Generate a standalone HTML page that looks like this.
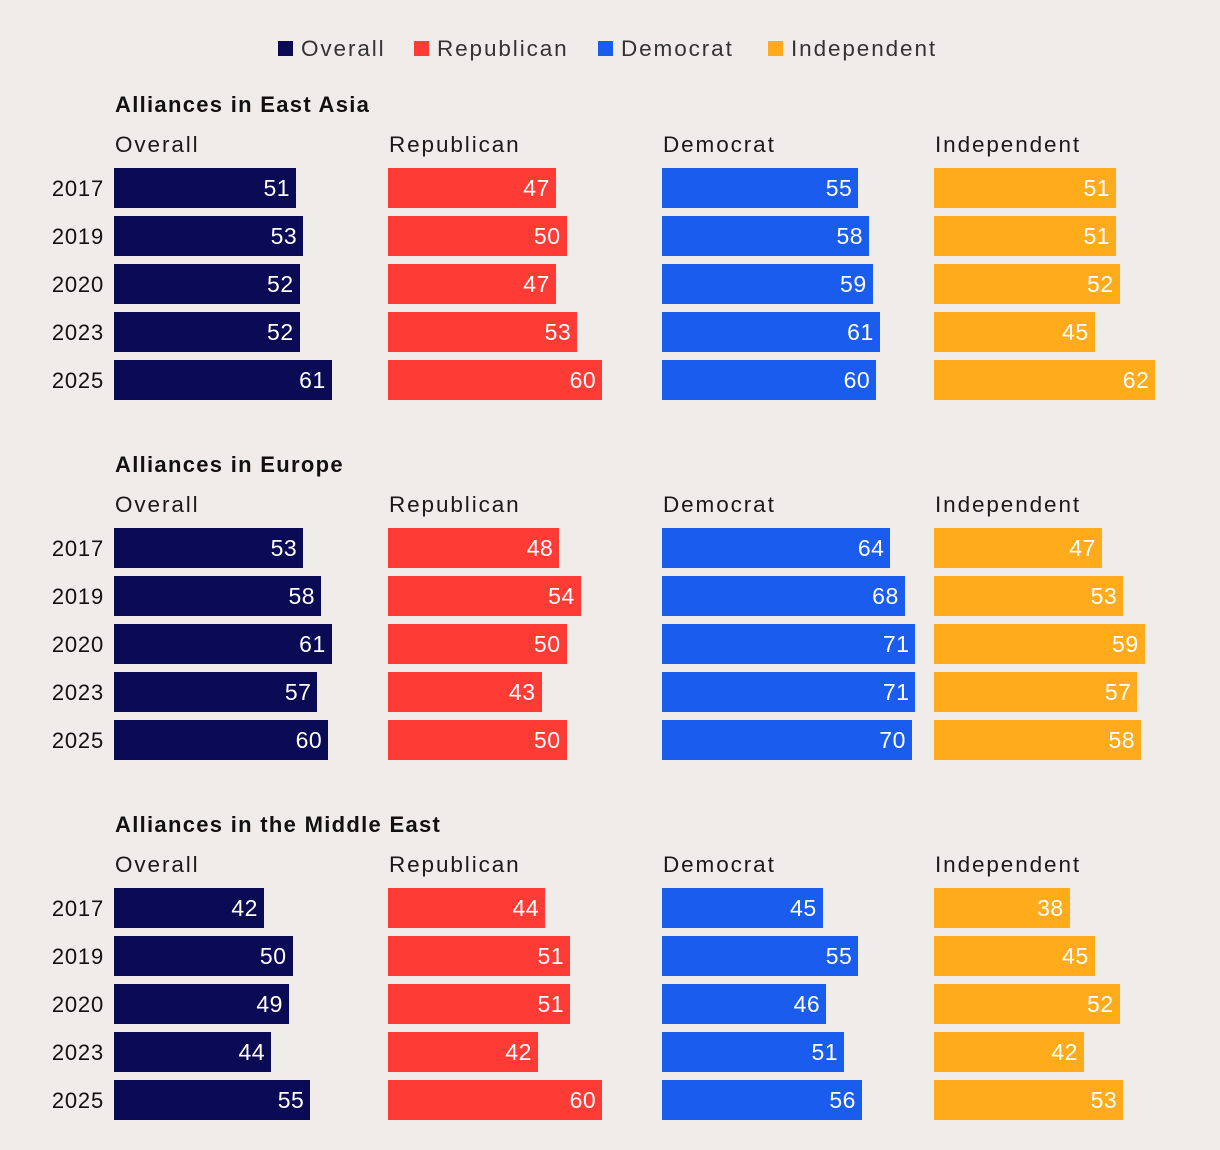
<!DOCTYPE html>
<html><head><meta charset="utf-8">
<style>
html,body{margin:0;padding:0;background:#f0ece9;}
#root{position:relative;width:1220px;height:1150px;background:#f0ece9;font-family:"Liberation Sans",sans-serif;color:#111;overflow:hidden;}
.abs{position:absolute;white-space:nowrap;}
.title{font-weight:bold;font-size:22px;letter-spacing:1.3px;}
.sub{font-size:22.5px;color:#1a1a1a;letter-spacing:1.9px;}
.year{font-size:22px;text-align:right;width:80px;letter-spacing:0.8px;}
.bar{position:absolute;height:40px;}
.val{position:absolute;right:6px;top:0;line-height:40px;font-size:23px;color:#fff;letter-spacing:0.5px;}
.leg{font-size:22.5px;color:#333;letter-spacing:1.9px;}
.sw{position:absolute;width:15px;height:15px;}
</style></head>
<body>
<div id="root">
  <div>
    <div class="sw" style="left:278px;top:41px;background:#0b0a55"></div>
    <div class="abs leg" style="left:301px;top:36px">Overall</div>
    <div class="sw" style="left:414px;top:41px;background:#ff3b35"></div>
    <div class="abs leg" style="left:437px;top:36px">Republican</div>
    <div class="sw" style="left:598px;top:41px;background:#1a5ced"></div>
    <div class="abs leg" style="left:621px;top:36px">Democrat</div>
    <div class="sw" style="left:768px;top:41px;background:#ffab1b"></div>
    <div class="abs leg" style="left:791px;top:36px">Independent</div>
  </div>
</div>
<script>
const years = ["2017","2019","2020","2023","2025"];
const regions = ["Alliances in East Asia","Alliances in Europe","Alliances in the Middle East"];
const groups = ["Overall","Republican","Democrat","Independent"];
const eastAsia = [[51,53,52,52,61],[47,50,47,53,60],[55,58,59,61,60],[51,51,52,45,62]];
const europe = [[53,58,61,57,60],[48,54,50,43,50],[64,68,71,71,70],[47,53,59,57,58]];
const middleEast = [[42,50,49,44,55],[44,51,51,42,60],[45,55,46,51,56],[38,45,52,42,53]];
const regionData = [eastAsia, europe, middleEast];

const colors = ["#0b0a55","#ff3b35","#1a5ced","#ffab1b"];
const colX = [114,388,662,934];
const xScale = v => v * 3.57;
const root = document.getElementById('root');
function add(cls, style, text){
  const d = document.createElement('div');
  d.className = cls; d.style.cssText = style;
  if (text !== undefined) d.textContent = text;
  root.appendChild(d); return d;
}
regions.forEach((r, ri) => {
  const off = ri * 360;
  const t = add('abs title', `left:115px;top:${92+off}px`, r);
  
  
  years.forEach((y, yi) => {
    const yl = add('abs year', `left:24px;top:${176+off+yi*48}px`, y);
    
    
  });
  groups.forEach((g, gi) => {
    const s = add('abs sub', `left:${colX[gi]+1}px;top:${132+off}px`, g);
    
    
    regionData[ri][gi].forEach((v, yi) => {
      const b = add('bar', `left:${colX[gi]}px;top:${168+off+yi*48}px;width:${xScale(v)}px;background:${colors[gi]}`);
      
      
      const vl = document.createElement('div');
      vl.className = 'val'; vl.textContent = v;
      
      
      b.appendChild(vl);
    });
  });
});
</script>
</body></html>
